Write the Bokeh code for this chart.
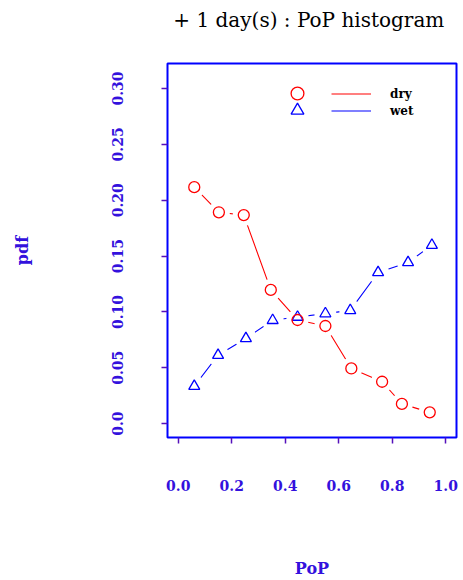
from bokeh.plotting import figure
from bokeh.models import FixedTicker, Legend, LegendItem, Range1d, ColumnDataSource, Title
from bokeh.embed import file_html
from bokeh.resources import INLINE

# data
dry_x = [0.060, 0.152, 0.245, 0.346, 0.446, 0.550, 0.647, 0.762, 0.836, 0.940]
dry_pdf = [0.2117, 0.1892, 0.1867, 0.1197, 0.0928, 0.0874, 0.0494, 0.0375, 0.0177, 0.0101]
wet_x = [0.060, 0.149, 0.253, 0.353, 0.446, 0.550, 0.643, 0.747, 0.859, 0.948]
wet_pdf = [0.0335, 0.0613, 0.0763, 0.0925, 0.0954, 0.0985, 0.1014, 0.1353, 0.1443, 0.1598]
x_ticks = [0.0, 0.2, 0.4, 0.6, 0.8, 1.0]
x_tick_labels = ["0.0", "0.2", "0.4", "0.6", "0.8", "1.0"]
y_ticks = [0.0, 0.05, 0.10, 0.15, 0.20, 0.25, 0.30]
y_tick_labels = ["0.0", "0.05", "0.10", "0.15", "0.20", "0.25", "0.30"]
title_text = "+ 1  day(s) : PoP histogram"

SERIF = "DejaVu Serif"
LABCOL = "#3311dd"
TICKCOL = "#5511bb"

p = figure(width=463, height=580, output_backend="svg", toolbar_location=None,
           x_range=Range1d(-0.04, 1.04), y_range=Range1d(-0.0124, 0.3224), title=None,
           min_border_left=167, min_border_right=7, min_border_top=63, min_border_bottom=143)
p.background_fill_color = "white"
p.border_fill_color = "white"
p.outline_line_color = "#0000ff"
p.outline_line_width = 2
p.xgrid.visible = False
p.ygrid.visible = False

# spacer between the frame and the title, then the title itself
p.add_layout(Title(text=" ", text_font_size="10px", standoff=19), "above")
p.add_layout(Title(text=title_text, align="center", text_font=SERIF,
                   text_font_style="normal", text_font_size="20px",
                   text_color="black", standoff=0), "above")

for ax in (p.xaxis[0], p.yaxis[0]):
    ax.axis_line_color = None
    ax.major_tick_line_color = TICKCOL
    ax.major_tick_line_width = 1.5
    ax.major_tick_out = 6
    ax.major_tick_in = 0
    ax.minor_tick_line_color = None
    ax.major_label_text_font = SERIF
    ax.major_label_text_font_style = "bold"
    ax.major_label_text_font_size = "14px"
    ax.major_label_text_color = LABCOL
    ax.axis_label_text_font = SERIF
    ax.axis_label_text_font_style = "bold"
    ax.axis_label_text_font_size = "16px"
    ax.axis_label_text_color = LABCOL

p.xaxis.ticker = FixedTicker(ticks=x_ticks)
p.xaxis.major_label_overrides = dict(zip(x_ticks, x_tick_labels))
p.yaxis.ticker = FixedTicker(ticks=y_ticks)
p.yaxis.major_label_overrides = dict(zip(y_ticks, y_tick_labels))
p.yaxis.major_label_orientation = "vertical"
p.xaxis.major_label_standoff = 36
p.yaxis.major_label_standoff = 38
p.xaxis.axis_label = "PoP"
p.yaxis.axis_label = "pdf"
p.xaxis.axis_label_standoff = 65
p.yaxis.axis_label_standoff = 78

dry = ColumnDataSource(dict(x=dry_x, y=dry_pdf))
wet = ColumnDataSource(dict(x=wet_x, y=wet_pdf))

wet_line = p.line("x", "y", source=wet, line_color="#0000ff", line_width=1.1)
p.scatter("x", "y", source=wet, size=22, marker="circle", fill_color="white", line_color=None)
dry_line = p.line("x", "y", source=dry, line_color="#ff0000", line_width=1.1)
p.scatter("x", "y", source=dry, size=22, marker="circle", fill_color="white", line_color=None)
wet_pts = p.scatter("x", "y", source=wet, size=11, marker="triangle", fill_color=None,
                    line_color="#0000ff", line_width=1.3)
dry_pts = p.scatter("x", "y", source=dry, size=11, marker="circle", fill_color=None,
                    line_color="#ff0000", line_width=1.3)

def style_legend(lg):
    lg.border_line_color = None
    lg.background_fill_alpha = 0
    lg.padding = 0
    lg.margin = 0
    lg.label_text_font = SERIF
    lg.label_text_font_style = "bold"
    lg.label_text_font_size = "12px"
    lg.label_text_color = "black"
    lg.label_height = 17

leg_dry_mk = Legend(items=[LegendItem(label=" ", renderers=[dry_pts])],
                    location=(114, 328), glyph_width=32, glyph_height=32, spacing=0)
leg_wet_mk = Legend(items=[LegendItem(label=" ", renderers=[wet_pts])],
                    location=(114, 311), glyph_width=32, glyph_height=32, spacing=0)
leg_lines = Legend(items=[LegendItem(label="dry", renderers=[dry_line]),
                          LegendItem(label="wet", renderers=[wet_line])],
                   location=(164, 318), glyph_width=40, glyph_height=17, spacing=0,
                   label_standoff=19)
for lg in (leg_dry_mk, leg_wet_mk, leg_lines):
    style_legend(lg)
    p.add_layout(lg, "center")

open("out.html", "w").write(file_html(p, INLINE))
